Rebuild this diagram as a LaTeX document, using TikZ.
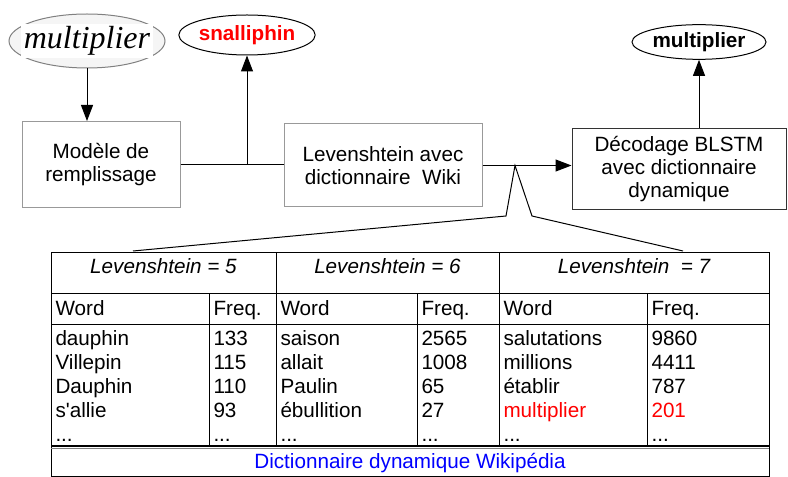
\documentclass[tikz,border=0pt]{standalone}
\usepackage{fontspec}
\setmainfont{Liberation Sans}
\newfontfamily\handfont{Liberation Serif}
\usetikzlibrary{positioning}
\usetikzlibrary{arrows.meta}
\usetikzlibrary{shapes.geometric}

\tikzset{
  stage/.style={draw=gray!80, rectangle, align=center, inner sep=0, font=\fontsize{15.5}{17.25}\selectfont},
  oval/.style={draw, ellipse, inner sep=0, font=\fontsize{15.5}{18}\selectfont\bfseries},
  cell/.style={anchor=base west, inner sep=0, font=\fontsize{15.5}{18}\selectfont},
  head/.style={anchor=base, inner sep=0, font=\fontsize{15.5}{18}\selectfont\itshape},
  tip/.style={-{Triangle[length=12pt,width=9pt]}},
}

\begin{document}
\begin{tikzpicture}[x=0.75pt,y=-0.75pt,line width=0.75pt]
	\useasboundingbox (0,0) rectangle (788,477);

	%% words on top
	\node[oval, draw=gray, fill=gray!8, minimum width=117pt, minimum height=40.5pt] (hand) at (87,41) {};
	\node[fill=white, inner sep=2pt, font=\handfont\itshape\fontsize{24}{24}\selectfont] (handword) at (hand.center) {multiplier};
	\node[oval, text=red, minimum width=102pt, minimum height=30pt] (snal) at (247,35) {snalliphin};
	\node[oval, minimum width=100.5pt, minimum height=26pt] (mult) at (699,42) {multiplier};

	%% processing chain
	\node[stage, minimum width=118.5pt, minimum height=64.5pt] (model) at (101,164.5) {Modèle de\\remplissage};
	\node[stage, minimum width=148.5pt, minimum height=62.25pt] (lev) at (383,165.5) {Levenshtein avec\\dictionnaire\ \ Wiki};
	\node[stage, draw=black!80, minimum width=160.5pt, minimum height=60.75pt] (dec) at (679,169.5) {Décodage BLSTM\\avec dictionnaire\\dynamique};

	\draw[tip] (hand.south) -- (hand.south |- model.north);
	\draw (model.east) -- (model.east -| lev.west);
	\draw[tip] (snal.south |- model.east) -- (snal.south);
	\draw[tip] (lev.east) -- (lev.east -| dec.west);
	\draw[tip] (mult.south |- dec.north) -- (mult.south);

	%% callout down to the table
	\coordinate (apex) at (515,165.5);
	\coordinate (footL) at (506,216);
	\coordinate (footR) at (532,216);
	\coordinate (tabL) at (133,251);
	\coordinate (tabR) at (683,251);
	\draw (tabL) -- (footL) -- (apex) -- (footR) -- (tabR);

	%% table
	\def\tL{51}   % left
	\def\tR{769}  % right
	\def\tT{252}  % top
	\def\tB{476}  % bottom
	\def\tS{446}  % double line

	\draw (\tL,\tT) rectangle (\tR,\tB);
	\foreach \y in {293,324}
		\draw (\tL,\y) -- (\tR,\y);
	\draw[line width=1.1pt] (\tL,\tS) -- (\tR,\tS);
	\draw[gray] (\tL,\tS+2.5) -- (\tR,\tS+2.5);
	\foreach \x in {276,499}
		\draw (\x,\tT) -- (\x,\tS);
	\foreach \x in {209,417,647}
		\draw (\x,293) -- (\x,\tS);

	\node[head] (lvfive) at (163.5,273) {Levenshtein = 5};
	\node[head] (lvsix) at (387.5,273) {Levenshtein = 6};
	\node[head] (lvseven) at (634,273) {Levenshtein\ \ = 7};

	\foreach \x/\t in {55/Word,213/Freq.,280/Word,421/Freq.,503/Word,651/Freq.}
		\node[cell] (hd\x) at (\x,315) {\t};

	\foreach \w [count=\i] in {dauphin,Villepin,Dauphin,s\textquotesingle{}allie}
		\node[cell] (wa\i) at (55,321+24*\i) {\w};
	\foreach \w [count=\i] in {133,115,110,93}
		\node[cell] (fa\i) at (213,321+24*\i) {\w};
	\foreach \w [count=\i] in {saison,allait,Paulin,ébullition}
		\node[cell] (wb\i) at (280,321+24*\i) {\w};
	\foreach \w [count=\i] in {2565,1008,65,27}
		\node[cell] (fb\i) at (421,321+24*\i) {\w};
	\foreach \w [count=\i] in {salutations,millions,établir,\textcolor{red}{multiplier}}
		\node[cell] (wc\i) at (503,321+24*\i) {\w};
	\foreach \w [count=\i] in {9860,4411,787,\textcolor{red}{201}}
		\node[cell] (fc\i) at (651,321+24*\i) {\w};
	\foreach \x in {55,213,280,421,503,651}
		\node[cell] (dots\x) at (\x,441) {...};

	\node[cell, anchor=base, text=blue] (dict) at (410,468) {Dictionnaire dynamique Wikipédia};
\end{tikzpicture}
\end{document}
